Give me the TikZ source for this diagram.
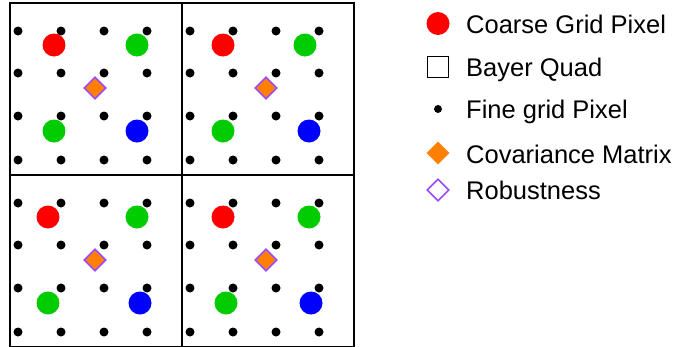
\documentclass[tikz,border=0pt]{standalone}
\usepackage{fontspec}
\setmainfont{Liberation Sans}
\usetikzlibrary{shapes.geometric}
\definecolor{cred}{RGB}{255,0,0}
\definecolor{cgreen}{RGB}{0,204,0}
\definecolor{cblue}{RGB}{0,0,255}
\definecolor{corange}{RGB}{255,128,0}
\definecolor{cpurple}{RGB}{155,75,255}
\tikzset{
  quadbox/.style={draw=black, line width=2pt},
  finedot/.style={circle, fill=black, inner sep=0pt, minimum size=9pt},
  coarse/.style={circle, inner sep=0pt, minimum size=23pt},
  covdiam/.style={diamond, aspect=1, inner sep=0pt, minimum width=22pt, minimum height=22pt, fill=corange, draw=cpurple, line width=1.6pt},
  robdiam/.style={diamond, aspect=1, inner sep=0pt, minimum width=22pt, minimum height=22pt, draw=cpurple, line width=1.6pt},
  legtext/.style={anchor=base west, inner sep=0pt, font=\fontsize{25.5}{30}\selectfont},
}
\begin{document}
\begin{tikzpicture}[x=1pt,y=-1pt]
\useasboundingbox (0,0) rectangle (675,346);
\foreach \qx/\qy/\q/\rx/\gx/\hx/\bx/\dmx in {9/2/a/45/128/45/128/86,181/2/b/42/124/42/128/85,9/174/c/39/128/39/131/86,181/174/d/42/128/45/130/85}{
  \node[quadbox, minimum width=172pt, minimum height=172pt, inner sep=0pt, anchor=north west] (box\q) at (\qx,\qy) {};
  \foreach \dx [count=\i] in {9,52,95,138}{
    \foreach \dy [count=\j] in {29,71,114,158}{
      \node[finedot] (dot\q\i\j) at (\qx+\dx,\qy+\dy) {};
    }
  }
  \node[coarse, fill=cred] (red\q) at (\qx+\rx,\qy+43) {};
  \node[coarse, fill=cgreen] (gtr\q) at (\qx+\gx,\qy+43) {};
  \node[coarse, fill=cgreen] (gbl\q) at (\qx+\hx,\qy+129) {};
  \node[coarse, fill=cblue] (blue\q) at (\qx+\bx,\qy+129) {};
  \node[covdiam] (cov\q) at (\qx+\dmx,\qy+86) {};
}
% legend
\node[coarse, fill=cred] (lred) at (438,23.5) {};
\node[legtext] (tred) at (466,33) {Coarse Grid Pixel};
\node[draw=black, line width=1.5pt, minimum size=21pt, inner sep=0pt] (lsq) at (438,67) {};
\node[legtext] (tsq) at (466,76) {Bayer Quad};
\node[circle, fill=black, inner sep=0pt, minimum size=8pt] (ldot) at (438,109) {};
\node[legtext] (tdot) at (466,118) {Fine grid Pixel};
\node[diamond, aspect=1, inner sep=0pt, minimum width=23pt, minimum height=23pt, fill=corange] (lcov) at (438,153) {};
\node[legtext] (tcov) at (466,163) {Covariance Matrix};
\node[robdiam] (lrob) at (438,190) {};
\node[legtext] (trob) at (466,199) {Robustness};
\end{tikzpicture}
\end{document}
